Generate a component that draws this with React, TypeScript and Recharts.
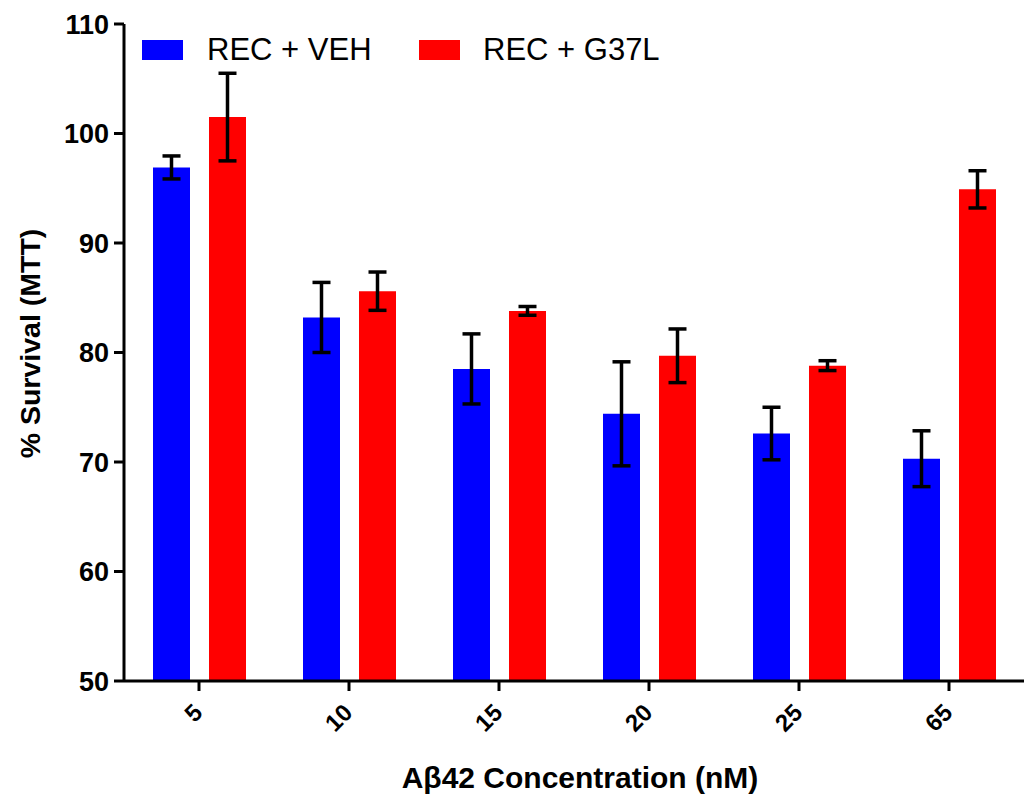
import React from "react";
import { BarChart, Bar, XAxis, YAxis, ErrorBar, Label } from "recharts";

const concentrations = ["5", "10", "15", "20", "25", "65"];
const vehMeans = [96.9, 83.2, 78.5, 74.4, 72.6, 70.3];
const vehErrors = [1.05, 3.2, 3.2, 4.75, 2.4, 2.55];
const g37lMeans = [101.5, 85.6, 83.8, 79.7, 78.8, 94.9];
const g37lErrors = [4.0, 1.75, 0.4, 2.45, 0.45, 1.7];
const yTicks = [50, 60, 70, 80, 90, 100, 110];

const seriesNames = ["REC + VEH", "REC + G37L"];
const seriesColors = ["#0000FF", "#FF0000"];

const FONT = "'Liberation Sans', Arial, Helvetica, sans-serif";

const data = concentrations.map((c, i) => ({
  conc: c,
  veh: vehMeans[i],
  vehErr: vehErrors[i],
  g37l: g37lMeans[i],
  g37lErr: g37lErrors[i],
}));

function XTick(props: any) {
  const { x, y, payload } = props;
  const ax = x + 5;
  const ay = y + 23;
  return (
    <text
      x={ax}
      y={ay}
      transform={`rotate(-45, ${ax}, ${ay})`}
      textAnchor="end"
      fontSize={24}
      fontWeight="bold"
      fontFamily={FONT}
      fill="#000"
    >
      {payload.value}
    </text>
  );
}

export default function App() {
  const axisStyle = { stroke: "#000", strokeWidth: 3 };
  return (
    <div style={{ position: "absolute", left: 0, top: 0, width: 1029, height: 795, background: "#fff" }}>
      <BarChart
        width={1029}
        height={795}
        data={data}
        margin={{ top: 24, right: 5, left: 0, bottom: 0 }}
        barSize={37}
        barGap={19}
      >
        <XAxis
          dataKey="conc"
          height={114}
          axisLine={axisStyle}
          tickLine={axisStyle}
          tickSize={10}
          tickMargin={0}
          tick={<XTick />}
          interval={0}
        >
          <Label
            content={(p: any) => (
              <text
                x={580}
                y={p.viewBox.y + 107}
                textAnchor="middle"
                fontSize={30}
                fontWeight="bold"
                fontFamily={FONT}
                fill="#000"
              >
                Aβ42 Concentration (nM)
              </text>
            )}
          />
        </XAxis>
        <YAxis
          width={124}
          domain={[50, 110]}
          ticks={yTicks}
          allowDataOverflow
          axisLine={axisStyle}
          tickLine={axisStyle}
          tickSize={10}
          tickMargin={5}
          tick={{ fontSize: 27, fontWeight: "bold", fill: "#000", fontFamily: FONT }}
        >
          <Label
            content={(p: any) => {
              const cx = 40;
              const cy = p.viewBox.y + p.viewBox.height / 2 - 9;
              return (
                <text
                  x={cx}
                  y={cy}
                  transform={`rotate(-90, ${cx}, ${cy})`}
                  textAnchor="middle"
                  fontSize={28.5}
                  fontWeight="bold"
                  fontFamily={FONT}
                  fill="#000"
                >
                  % Survival (MTT)
                </text>
              );
            }}
          />
        </YAxis>
        <Bar dataKey="veh" name={seriesNames[0]} fill={seriesColors[0]} isAnimationActive={false}>
          <ErrorBar dataKey="vehErr" width={9} stroke="#000" strokeWidth={3.5} direction="y" />
        </Bar>
        <Bar dataKey="g37l" name={seriesNames[1]} fill={seriesColors[1]} isAnimationActive={false}>
          <ErrorBar dataKey="g37lErr" width={9} stroke="#000" strokeWidth={3.5} direction="y" />
        </Bar>
      </BarChart>
      {seriesNames.map((name, i) => (
        <div
          key={name}
          style={{
            position: "absolute",
            left: i === 0 ? 142 : 419,
            top: 31,
            display: "flex",
            alignItems: "center",
            fontFamily: FONT,
            fontSize: 31,
            color: "#000",
            lineHeight: "38px",
            whiteSpace: "nowrap",
          }}
        >
          <span style={{ display: "inline-block", width: 41, height: 20, background: seriesColors[i], marginRight: i === 0 ? 24 : 23 }} />
          {name}
        </div>
      ))}
    </div>
  );
}
